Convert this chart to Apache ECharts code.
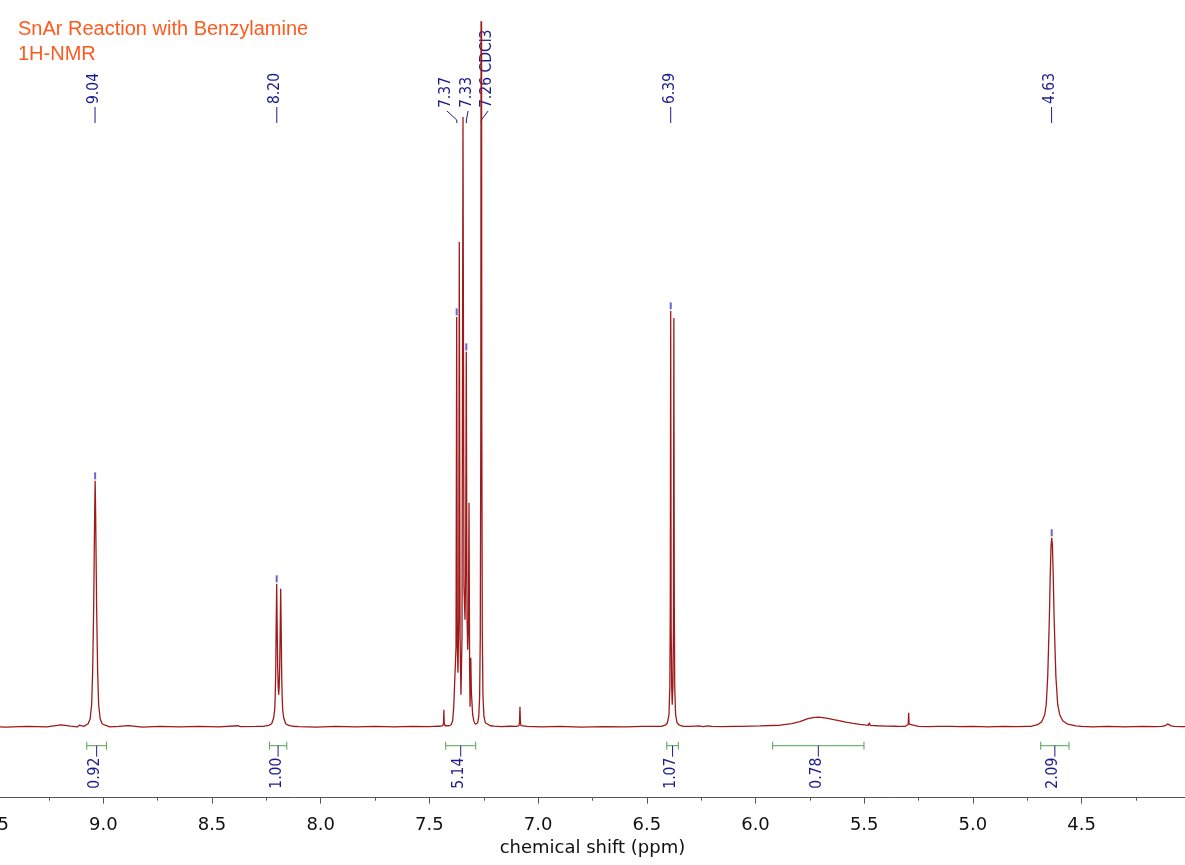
<!DOCTYPE html>
<html>
<head>
<meta charset="utf-8">
<title>SnAr Reaction with Benzylamine - 1H-NMR</title>
<script src="https://cdn.jsdelivr.net/npm/echarts@6/dist/echarts.min.js"></script>
<style>
html, body { margin: 0; padding: 0; background: #fff; }
#nmr-chart { width: 1185px; height: 865px; }
</style>
</head>
<body>
<div id="nmr-chart"></div>
<script>
// spectrum, [ppm, intensity]
const baselineLeft = [[9.55, 0.2], [9.45, -0.3], [9.35, 0.4], [9.26, -0.2], [9.195, 1.8], [9.19, 0.1], [9.15, 0.5], [9.12, -0.2], [9.11, 1.5], [9.105, 0.2], [9.09, 0.4]]
const peak904 = [[9.0835, 1.5], [9.0697, 3], [9.0605, 8], [9.0536, 22], [9.049, 55], [9.0444, 118], [9.0398, 212], [9.0375, 246], [9.0352, 212], [9.0306, 118], [9.026, 55], [9.0214, 22], [9.0145, 8], [9.0053, 3], [8.9915, 1.5]]
const baselineMid1 = [[8.97, -0.2], [8.93, 0.4], [8.885, 1.2], [8.88, 0.2], [8.82, -0.3], [8.74, 0.3], [8.65, -0.2], [8.56, 0.4], [8.47, -0.1], [8.38, 1.0], [8.37, 0.2], [8.30, 0.3], [8.26, 0.5]]
const peak820 = [[8.2393, 1.3], [8.2255, 3], [8.2163, 9], [8.2117, 17], [8.2094, 29], [8.2071, 52], [8.2048, 100], [8.2025, 143], [8.2002, 100], [8.1979, 60], [8.1955, 40], [8.1933, 32], [8.191, 40], [8.1886, 60], [8.1863, 97], [8.184, 138], [8.1817, 97], [8.1794, 50], [8.1771, 29], [8.1748, 17], [8.1702, 9], [8.161, 3], [8.147, 1.3]]
const baselineMid2 = [[8.13, 0.5], [8.10, 0.2], [8.02, -0.3], [7.93, 0.3], [7.84, -0.2], [7.75, 0.4], [7.66, -0.1], [7.58, 0.3], [7.50, 0.2], [7.46, 0.6]]
const aromatic = [[7.45, 0.5], [7.438, 1], [7.435, 4], [7.4335, 17], [7.432, 4], [7.428, 1], [7.41, 1], [7.40, 2], [7.393, 6], [7.388, 20], [7.385, 37], [7.3775, 80], [7.3745, 410], [7.3715, 80], [7.3685, 54], [7.365, 110], [7.3625, 485], [7.359, 90], [7.3547, 32], [7.350, 90], [7.3455, 610], [7.341, 140], [7.3363, 107], [7.3335, 150], [7.3303, 375], [7.327, 110], [7.3238, 77], [7.3205, 100], [7.3178, 224], [7.315, 60], [7.313, 20], [7.311, 45], [7.3096, 69], [7.307, 35], [7.301, 12], [7.295, 5], [7.288, 2.5], [7.283, 2], [7.278, 4], [7.273, 10], [7.269, 30], [7.266, 90], [7.2635, 300], [7.2613, 1100], [7.259, 300], [7.2565, 90], [7.2535, 30], [7.249, 10], [7.243, 4], [7.235, 2], [7.22, 1]]
const baselineMid3 = [[7.20, 0.6], [7.17, 0.2], [7.13, 0.5], [7.10, 0.4], [7.088, 1], [7.0855, 5], [7.0835, 20], [7.0815, 5], [7.079, 1], [7.05, 0.3], [6.98, -0.2], [6.90, 0.3], [6.80, -0.3], [6.70, 0.2], [6.60, -0.2], [6.52, 0.3], [6.46, 0.4]]
const peak639 = [[6.43, 0.5], [6.415, 1.5], [6.405, 4], [6.398, 12], [6.394, 40], [6.392, 120], [6.390, 416], [6.388, 100], [6.3855, 40], [6.383, 22], [6.380, 40], [6.3775, 100], [6.3755, 409], [6.3735, 120], [6.3715, 40], [6.3675, 12], [6.361, 4], [6.35, 1.5], [6.335, 0.5]]
const baselineMid4 = [[6.30, 0.3], [6.26, 0.8], [6.24, 0.2], [6.22, 0.9], [6.20, 0.3], [6.15, 0.2], [6.10, 0.4]]
const nhHump = [[6.071, 0.4], [5.98, 0.8], [5.888, 1.5], [5.833, 3], [5.796, 5], [5.759, 8], [5.735, 9.2], [5.713, 9.6], [5.69, 9.2], [5.667, 8.3], [5.64, 7], [5.612, 5.8], [5.585, 4.6], [5.557, 3.5], [5.52, 2.4], [5.497, 1.8], [5.481, 1.5], [5.4765, 4], [5.472, 1.3], [5.44, 1], [5.40, 0.7], [5.35, 0.5], [5.31, 0.4]]
const baselineMid5 = [[5.301, 0.5], [5.2975, 2.5], [5.2955, 14], [5.2935, 2.5], [5.290, 0.5], [5.25, 0.3], [5.20, 0.1], [5.16, 0.4], [5.135, 0.3], [5.128, 1.6], [5.123, 0.3], [5.117, 1.4], [5.112, 0.3], [5.105, 1.3], [5.099, 0.3], [5.06, 0.2], [5.00, 0.3], [4.93, -0.2], [4.86, 0.3], [4.80, 0.1], [4.75, 0.4]]
const peak463 = [[4.7295, 0.5], [4.702, 2], [4.6835, 5], [4.6697, 12], [4.6628, 22], [4.6559, 50], [4.6513, 85], [4.6481, 110], [4.6444, 150], [4.6407, 180], [4.6375, 189], [4.6343, 182], [4.6306, 152], [4.6265, 110], [4.6228, 82], [4.6182, 50], [4.6099, 22], [4.6007, 12], [4.5869, 6], [4.5639, 2.5], [4.527, 0.8]]
const baselineRight = [[4.50, 0.3], [4.45, -0.2], [4.38, 0.3], [4.30, -0.1], [4.22, 0.3], [4.16, 0.2], [4.13, 0.3], [4.115, 1], [4.105, 2.8], [4.098, 2.5], [4.088, 0.8], [4.075, 0.3], [4.04, 0.1], [4.0, 0.2]]

// picked peaks
const peakLabels = ['9.04', '8.20', '7.37', '7.33', '7.26 CDCl3', '6.39', '4.63']
const peakShift = [9.038, 8.202, 7.374, 7.330, 7.261, 6.390, 4.638]
const peakTextShift = [9.038, 8.202, 7.419, 7.322, 7.230, 6.386, 4.638]
const markerShift = [9.0375, 8.2025, 7.3745, 7.3303, 6.390, 4.6375]
const markerHeight = [246, 143, 410, 375, 416, 189]

// integrals
const integralFrom = [9.076, 8.236, 7.425, 6.408, 5.921, 4.688]
const integralTo = [8.985, 8.156, 7.287, 6.355, 5.501, 4.558]
const integralValues = ['0.92', '1.00', '5.14', '1.07', '0.78', '2.09']

const spectrum = [].concat(baselineLeft, peak904, baselineMid1, peak820, baselineMid2, aromatic,
  baselineMid3, peak639, baselineMid4, nhHump, baselineMid5, peak463, baselineRight)
  .sort((a, b) => b[0] - a[0])

const navy = '#1c1c8c'
const labelFont = '15.5px "DejaVu Sans Condensed", "DejaVu Sans"'

const chart = echarts.init(document.getElementById('nmr-chart'))
chart.setOption({
  animation: false,
  title: {
    text: 'SnAr Reaction with Benzylamine\n1H-NMR',
    left: 18,
    top: 16.5,
    padding: 0,
    textStyle: {
      color: '#ff5a1e',
      fontFamily: 'Liberation Sans',
      fontWeight: 'normal',
      fontSize: 20,
      lineHeight: 25,
    },
  },
  grid: { left: -5.4, right: -5.3, top: 22, bottom: 67.3, outerBoundsMode: 'none', containLabel: false },
  xAxis: {
    type: 'value',
    inverse: true,
    min: 4.0,
    max: 9.5,
    interval: 0.5,
    axisLine: { onZero: false, lineStyle: { color: '#555', width: 1 } },
    axisTick: { length: 6, lineStyle: { color: '#555' } },
    minorTick: { show: true, splitNumber: 2, length: 3, lineStyle: { color: '#555' } },
    splitLine: { show: false },
    axisLabel: {
      showMinLabel: false,
      margin: 19,
      color: '#111',
      fontFamily: 'DejaVu Sans',
      fontSize: 18,
      formatter: v => v.toFixed(1),
    },
    name: 'chemical shift (ppm)',
    nameLocation: 'middle',
    nameGap: 39,
    nameTextStyle: { color: '#111', fontFamily: 'DejaVu Sans', fontSize: 18 },
  },
  yAxis: { type: 'value', min: -71, max: 705, show: false },
  series: [
    {
      name: 'spectrum',
      type: 'line',
      data: spectrum,
      showSymbol: false,
      lineStyle: { color: '#9e1a1a', width: 1.3 },
    },
    {
      name: 'peak markers',
      type: 'scatter',
      data: markerShift.map((s, i) => [s, markerHeight[i]]),
      symbol: 'rect',
      symbolSize: [2, 7],
      symbolOffset: [0, -5],
      itemStyle: { color: '#4040c0' },
    },
    {
      name: 'peak labels',
      type: 'custom',
      data: peakShift.map((s, i) => [s, peakTextShift[i]]),
      encode: { x: [0, 1] },
      renderItem: (params, api) => {
        const top = params.coordSys.y
        const xp = api.coord([api.value(0), 0])[0]
        const xt = api.coord([api.value(1), 0])[0]
        const bent = Math.abs(xp - xt) > 1.5
        const pts = bent
          ? [[xt, top + 89], [xp, top + 98], [xp, top + 101]]
          : [[xp, top + 85], [xp, top + 101]]
        return {
          type: 'group',
          children: [
            { type: 'polyline', shape: { points: pts }, style: { stroke: navy, lineWidth: 1, fill: 'none' } },
            {
              type: 'text',
              x: xt - 1.5,
              y: top + (bent ? 86 : 82),
              rotation: Math.PI / 2,
              style: { text: peakLabels[params.dataIndex], fill: navy, font: labelFont, align: 'left', verticalAlign: 'middle' },
            },
          ],
        }
      },
    },
    {
      name: 'integrals',
      type: 'custom',
      data: integralFrom.map((f, i) => [f, integralTo[i]]),
      encode: { x: [0, 1] },
      renderItem: (params, api) => {
        const bottom = params.coordSys.y + params.coordSys.height
        const xa = api.coord([api.value(0), 0])[0]
        const xb = api.coord([api.value(1), 0])[0]
        const xc = (xa + xb) / 2
        const y = bottom - 52
        const green = { stroke: '#4fa64f', lineWidth: 1 }
        return {
          type: 'group',
          children: [
            { type: 'line', shape: { x1: xa, y1: y, x2: xb, y2: y }, style: green },
            { type: 'line', shape: { x1: xa, y1: y - 4, x2: xa, y2: y + 4 }, style: green },
            { type: 'line', shape: { x1: xb, y1: y - 4, x2: xb, y2: y + 4 }, style: green },
            { type: 'line', shape: { x1: xc, y1: y, x2: xc, y2: y + 11 }, style: { stroke: navy, lineWidth: 1 } },
            {
              type: 'text',
              x: xc - 1.5,
              y: y + 12,
              rotation: Math.PI / 2,
              style: { text: integralValues[params.dataIndex], fill: navy, font: labelFont, align: 'right', verticalAlign: 'middle' },
            },
          ],
        }
      },
    },
  ],
})
</script>
</body>
</html>
